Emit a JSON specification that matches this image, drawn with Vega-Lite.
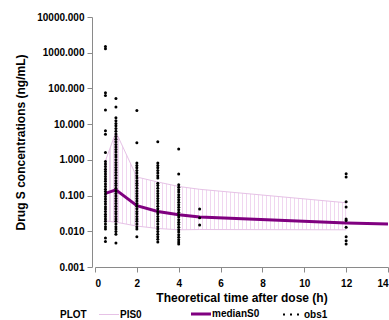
{
  "$schema": "https://vega.github.io/schema/vega-lite/v6.json",
  "width": 293,
  "height": 250,
  "autosize": "none",
  "padding": {"left": 95, "top": 17, "right": 1, "bottom": 53},
  "background": "white",
  "config": {
    "view": {"stroke": null},
    "font": "Liberation Sans",
    "axis": {"grid": false, "domainColor": "#8a8a8a", "tickColor": "#8a8a8a", "labelColor": "#000", "labelFont": "Liberation Sans", "labelFontWeight": "bold", "labelFontSize": 10, "titleFont": "Liberation Sans", "titleFontWeight": "bold", "titleFontSize": 12, "titleColor": "#000", "tickSize": 5}
  },
  "datasets": {
    "band": [
      {"t": 0.5, "lo": 0.0195, "hi": 0.95},
      {"t": 1, "lo": 0.018, "hi": 6},
      {"t": 2, "lo": 0.014, "hi": 0.33},
      {"t": 3, "lo": 0.012, "hi": 0.24},
      {"t": 4, "lo": 0.011, "hi": 0.18},
      {"t": 5, "lo": 0.0112, "hi": 0.15},
      {"t": 12, "lo": 0.011, "hi": 0.063}
    ],
    "median": [
      {"t": 0.5, "m": 0.115},
      {"t": 1, "m": 0.145},
      {"t": 2, "m": 0.052},
      {"t": 3, "m": 0.036},
      {"t": 4, "m": 0.029},
      {"t": 5, "m": 0.025},
      {"t": 12, "m": 0.017},
      {"t": 14, "m": 0.016}
    ],
    "obs": [
      {"t": 0.5, "c": 1500}, {"t": 0.5, "c": 1300}, {"t": 0.5, "c": 76}, {"t": 0.5, "c": 63}, {"t": 0.5, "c": 25}, {"t": 0.5, "c": 6.5}, {"t": 0.5, "c": 5.2}, {"t": 0.5, "c": 1.6},
      {"t": 0.5, "c": 0.9}, {"t": 0.5, "c": 0.77}, {"t": 0.5, "c": 0.65}, {"t": 0.5, "c": 0.55}, {"t": 0.5, "c": 0.47}, {"t": 0.5, "c": 0.4}, {"t": 0.5, "c": 0.34}, {"t": 0.5, "c": 0.29},
      {"t": 0.5, "c": 0.25}, {"t": 0.5, "c": 0.21}, {"t": 0.5, "c": 0.18}, {"t": 0.5, "c": 0.15}, {"t": 0.5, "c": 0.13}, {"t": 0.5, "c": 0.11}, {"t": 0.5, "c": 0.094}, {"t": 0.5, "c": 0.08},
      {"t": 0.5, "c": 0.068}, {"t": 0.5, "c": 0.058}, {"t": 0.5, "c": 0.049}, {"t": 0.5, "c": 0.042}, {"t": 0.5, "c": 0.036}, {"t": 0.5, "c": 0.03}, {"t": 0.5, "c": 0.026}, {"t": 0.5, "c": 0.022},
      {"t": 0.5, "c": 0.019}, {"t": 0.5, "c": 0.016}, {"t": 0.5, "c": 0.0135}, {"t": 0.5, "c": 0.0115}, {"t": 0.5, "c": 0.0065}, {"t": 0.5, "c": 0.0052},
      {"t": 1, "c": 52}, {"t": 1, "c": 30}, {"t": 1, "c": 15}, {"t": 1, "c": 12.5}, {"t": 1, "c": 10.5}, {"t": 1, "c": 9}, {"t": 1, "c": 7.5}, {"t": 1, "c": 6.3}, {"t": 1, "c": 5.3}, {"t": 1, "c": 4.5},
      {"t": 1, "c": 3.8}, {"t": 1, "c": 3.2}, {"t": 1, "c": 2.7}, {"t": 1, "c": 2.3}, {"t": 1, "c": 1.95}, {"t": 1, "c": 1.65}, {"t": 1, "c": 1.4}, {"t": 1, "c": 1.2}, {"t": 1, "c": 1.0}, {"t": 1, "c": 0.85},
      {"t": 1, "c": 0.72}, {"t": 1, "c": 0.61}, {"t": 1, "c": 0.52}, {"t": 1, "c": 0.44}, {"t": 1, "c": 0.37}, {"t": 1, "c": 0.31}, {"t": 1, "c": 0.26}, {"t": 1, "c": 0.22}, {"t": 1, "c": 0.19}, {"t": 1, "c": 0.16},
      {"t": 1, "c": 0.135}, {"t": 1, "c": 0.115}, {"t": 1, "c": 0.098}, {"t": 1, "c": 0.083}, {"t": 1, "c": 0.07}, {"t": 1, "c": 0.06}, {"t": 1, "c": 0.05}, {"t": 1, "c": 0.043}, {"t": 1, "c": 0.036}, {"t": 1, "c": 0.031},
      {"t": 1, "c": 0.026}, {"t": 1, "c": 0.022}, {"t": 1, "c": 0.019}, {"t": 1, "c": 0.016}, {"t": 1, "c": 0.0135}, {"t": 1, "c": 0.0115}, {"t": 1, "c": 0.0098}, {"t": 1, "c": 0.0083}, {"t": 1, "c": 0.0047},
      {"t": 2, "c": 24}, {"t": 2, "c": 3.0}, {"t": 2, "c": 0.82}, {"t": 2, "c": 0.7}, {"t": 2, "c": 0.6}, {"t": 2, "c": 0.5}, {"t": 2, "c": 0.43}, {"t": 2, "c": 0.36}, {"t": 2, "c": 0.31}, {"t": 2, "c": 0.26},
      {"t": 2, "c": 0.22}, {"t": 2, "c": 0.19}, {"t": 2, "c": 0.16}, {"t": 2, "c": 0.135}, {"t": 2, "c": 0.115}, {"t": 2, "c": 0.098}, {"t": 2, "c": 0.083}, {"t": 2, "c": 0.07}, {"t": 2, "c": 0.06}, {"t": 2, "c": 0.05},
      {"t": 2, "c": 0.043}, {"t": 2, "c": 0.036}, {"t": 2, "c": 0.031}, {"t": 2, "c": 0.026}, {"t": 2, "c": 0.022}, {"t": 2, "c": 0.019}, {"t": 2, "c": 0.016}, {"t": 2, "c": 0.0135}, {"t": 2, "c": 0.0115}, {"t": 2, "c": 0.007},
      {"t": 3, "c": 3.2}, {"t": 3, "c": 0.82}, {"t": 3, "c": 0.7}, {"t": 3, "c": 0.6}, {"t": 3, "c": 0.5}, {"t": 3, "c": 0.43}, {"t": 3, "c": 0.36}, {"t": 3, "c": 0.31}, {"t": 3, "c": 0.22}, {"t": 3, "c": 0.19},
      {"t": 3, "c": 0.16}, {"t": 3, "c": 0.135}, {"t": 3, "c": 0.115}, {"t": 3, "c": 0.098}, {"t": 3, "c": 0.083}, {"t": 3, "c": 0.07}, {"t": 3, "c": 0.06}, {"t": 3, "c": 0.05}, {"t": 3, "c": 0.043}, {"t": 3, "c": 0.036},
      {"t": 3, "c": 0.031}, {"t": 3, "c": 0.026}, {"t": 3, "c": 0.022}, {"t": 3, "c": 0.019}, {"t": 3, "c": 0.016}, {"t": 3, "c": 0.0135}, {"t": 3, "c": 0.0115}, {"t": 3, "c": 0.0098}, {"t": 3, "c": 0.0083}, {"t": 3, "c": 0.007},
      {"t": 3, "c": 0.006}, {"t": 3, "c": 0.005},
      {"t": 4, "c": 2.0}, {"t": 4, "c": 0.4}, {"t": 4, "c": 0.2}, {"t": 4, "c": 0.17}, {"t": 4, "c": 0.145}, {"t": 4, "c": 0.125}, {"t": 4, "c": 0.105}, {"t": 4, "c": 0.09}, {"t": 4, "c": 0.077}, {"t": 4, "c": 0.065},
      {"t": 4, "c": 0.055}, {"t": 4, "c": 0.047}, {"t": 4, "c": 0.04}, {"t": 4, "c": 0.034}, {"t": 4, "c": 0.029}, {"t": 4, "c": 0.025}, {"t": 4, "c": 0.021}, {"t": 4, "c": 0.018}, {"t": 4, "c": 0.0155}, {"t": 4, "c": 0.013},
      {"t": 4, "c": 0.011}, {"t": 4, "c": 0.0095}, {"t": 4, "c": 0.008}, {"t": 4, "c": 0.0068}, {"t": 4, "c": 0.0058}, {"t": 4, "c": 0.005}, {"t": 4, "c": 0.0044},
      {"t": 5, "c": 0.042}, {"t": 5, "c": 0.024}, {"t": 5, "c": 0.015},
      {"t": 12, "c": 0.41}, {"t": 12, "c": 0.33}, {"t": 12, "c": 0.067}, {"t": 12, "c": 0.048}, {"t": 12, "c": 0.022}, {"t": 12, "c": 0.02}, {"t": 12, "c": 0.013}, {"t": 12, "c": 0.007}, {"t": 12, "c": 0.0054}, {"t": 12, "c": 0.0044}
    ]
  },
  "layer": [
    {
      "data": {"name": "band"},
      "mark": {"type": "area", "opacity": 1, "fill": {"gradient": "linear", "x1": 0, "y1": 0, "x2": 1, "y2": 0, "stops": [
        {"offset": 0, "color": "#f0d6f0"}, {"offset": 0.0045, "color": "#f0d6f0"}, {"offset": 0.0045, "color": "#ffffff"},
        {"offset": 0.0167, "color": "#ffffff"}, {"offset": 0.0167, "color": "#f0d6f0"}, {"offset": 0.0212, "color": "#f0d6f0"}, {"offset": 0.0212, "color": "#ffffff"},
        {"offset": 0.0333, "color": "#ffffff"}, {"offset": 0.0333, "color": "#f0d6f0"}, {"offset": 0.0378, "color": "#f0d6f0"}, {"offset": 0.0378, "color": "#ffffff"},
        {"offset": 0.05, "color": "#ffffff"}, {"offset": 0.05, "color": "#f0d6f0"}, {"offset": 0.0545, "color": "#f0d6f0"}, {"offset": 0.0545, "color": "#ffffff"},
        {"offset": 0.0667, "color": "#ffffff"}, {"offset": 0.0667, "color": "#f0d6f0"}, {"offset": 0.0712, "color": "#f0d6f0"}, {"offset": 0.0712, "color": "#ffffff"},
        {"offset": 0.0833, "color": "#ffffff"}, {"offset": 0.0833, "color": "#f0d6f0"}, {"offset": 0.0878, "color": "#f0d6f0"}, {"offset": 0.0878, "color": "#ffffff"},
        {"offset": 0.1, "color": "#ffffff"}, {"offset": 0.1, "color": "#f0d6f0"}, {"offset": 0.1045, "color": "#f0d6f0"}, {"offset": 0.1045, "color": "#ffffff"},
        {"offset": 0.1167, "color": "#ffffff"}, {"offset": 0.1167, "color": "#f0d6f0"}, {"offset": 0.1212, "color": "#f0d6f0"}, {"offset": 0.1212, "color": "#ffffff"},
        {"offset": 0.1333, "color": "#ffffff"}, {"offset": 0.1333, "color": "#f0d6f0"}, {"offset": 0.1378, "color": "#f0d6f0"}, {"offset": 0.1378, "color": "#ffffff"},
        {"offset": 0.15, "color": "#ffffff"}, {"offset": 0.15, "color": "#f0d6f0"}, {"offset": 0.1545, "color": "#f0d6f0"}, {"offset": 0.1545, "color": "#ffffff"},
        {"offset": 0.1667, "color": "#ffffff"}, {"offset": 0.1667, "color": "#f0d6f0"}, {"offset": 0.1712, "color": "#f0d6f0"}, {"offset": 0.1712, "color": "#ffffff"},
        {"offset": 0.1833, "color": "#ffffff"}, {"offset": 0.1833, "color": "#f0d6f0"}, {"offset": 0.1878, "color": "#f0d6f0"}, {"offset": 0.1878, "color": "#ffffff"},
        {"offset": 0.2, "color": "#ffffff"}, {"offset": 0.2, "color": "#f0d6f0"}, {"offset": 0.2045, "color": "#f0d6f0"}, {"offset": 0.2045, "color": "#ffffff"},
        {"offset": 0.2167, "color": "#ffffff"}, {"offset": 0.2167, "color": "#f0d6f0"}, {"offset": 0.2212, "color": "#f0d6f0"}, {"offset": 0.2212, "color": "#ffffff"},
        {"offset": 0.2333, "color": "#ffffff"}, {"offset": 0.2333, "color": "#f0d6f0"}, {"offset": 0.2378, "color": "#f0d6f0"}, {"offset": 0.2378, "color": "#ffffff"},
        {"offset": 0.25, "color": "#ffffff"}, {"offset": 0.25, "color": "#f0d6f0"}, {"offset": 0.2545, "color": "#f0d6f0"}, {"offset": 0.2545, "color": "#ffffff"},
        {"offset": 0.2667, "color": "#ffffff"}, {"offset": 0.2667, "color": "#f0d6f0"}, {"offset": 0.2712, "color": "#f0d6f0"}, {"offset": 0.2712, "color": "#ffffff"},
        {"offset": 0.2833, "color": "#ffffff"}, {"offset": 0.2833, "color": "#f0d6f0"}, {"offset": 0.2878, "color": "#f0d6f0"}, {"offset": 0.2878, "color": "#ffffff"},
        {"offset": 0.3, "color": "#ffffff"}, {"offset": 0.3, "color": "#f0d6f0"}, {"offset": 0.3045, "color": "#f0d6f0"}, {"offset": 0.3045, "color": "#ffffff"},
        {"offset": 0.3167, "color": "#ffffff"}, {"offset": 0.3167, "color": "#f0d6f0"}, {"offset": 0.3212, "color": "#f0d6f0"}, {"offset": 0.3212, "color": "#ffffff"},
        {"offset": 0.3333, "color": "#ffffff"}, {"offset": 0.3333, "color": "#f0d6f0"}, {"offset": 0.3378, "color": "#f0d6f0"}, {"offset": 0.3378, "color": "#ffffff"},
        {"offset": 0.35, "color": "#ffffff"}, {"offset": 0.35, "color": "#f0d6f0"}, {"offset": 0.3545, "color": "#f0d6f0"}, {"offset": 0.3545, "color": "#ffffff"},
        {"offset": 0.3667, "color": "#ffffff"}, {"offset": 0.3667, "color": "#f0d6f0"}, {"offset": 0.3712, "color": "#f0d6f0"}, {"offset": 0.3712, "color": "#ffffff"},
        {"offset": 0.3833, "color": "#ffffff"}, {"offset": 0.3833, "color": "#f0d6f0"}, {"offset": 0.3878, "color": "#f0d6f0"}, {"offset": 0.3878, "color": "#ffffff"},
        {"offset": 0.4, "color": "#ffffff"}, {"offset": 0.4, "color": "#f0d6f0"}, {"offset": 0.4045, "color": "#f0d6f0"}, {"offset": 0.4045, "color": "#ffffff"},
        {"offset": 0.4167, "color": "#ffffff"}, {"offset": 0.4167, "color": "#f0d6f0"}, {"offset": 0.4212, "color": "#f0d6f0"}, {"offset": 0.4212, "color": "#ffffff"},
        {"offset": 0.4333, "color": "#ffffff"}, {"offset": 0.4333, "color": "#f0d6f0"}, {"offset": 0.4378, "color": "#f0d6f0"}, {"offset": 0.4378, "color": "#ffffff"},
        {"offset": 0.45, "color": "#ffffff"}, {"offset": 0.45, "color": "#f0d6f0"}, {"offset": 0.4545, "color": "#f0d6f0"}, {"offset": 0.4545, "color": "#ffffff"},
        {"offset": 0.4667, "color": "#ffffff"}, {"offset": 0.4667, "color": "#f0d6f0"}, {"offset": 0.4712, "color": "#f0d6f0"}, {"offset": 0.4712, "color": "#ffffff"},
        {"offset": 0.4833, "color": "#ffffff"}, {"offset": 0.4833, "color": "#f0d6f0"}, {"offset": 0.4878, "color": "#f0d6f0"}, {"offset": 0.4878, "color": "#ffffff"},
        {"offset": 0.5, "color": "#ffffff"}, {"offset": 0.5, "color": "#f0d6f0"}, {"offset": 0.5045, "color": "#f0d6f0"}, {"offset": 0.5045, "color": "#ffffff"},
        {"offset": 0.5167, "color": "#ffffff"}, {"offset": 0.5167, "color": "#f0d6f0"}, {"offset": 0.5212, "color": "#f0d6f0"}, {"offset": 0.5212, "color": "#ffffff"},
        {"offset": 0.5333, "color": "#ffffff"}, {"offset": 0.5333, "color": "#f0d6f0"}, {"offset": 0.5378, "color": "#f0d6f0"}, {"offset": 0.5378, "color": "#ffffff"},
        {"offset": 0.55, "color": "#ffffff"}, {"offset": 0.55, "color": "#f0d6f0"}, {"offset": 0.5545, "color": "#f0d6f0"}, {"offset": 0.5545, "color": "#ffffff"},
        {"offset": 0.5667, "color": "#ffffff"}, {"offset": 0.5667, "color": "#f0d6f0"}, {"offset": 0.5712, "color": "#f0d6f0"}, {"offset": 0.5712, "color": "#ffffff"},
        {"offset": 0.5833, "color": "#ffffff"}, {"offset": 0.5833, "color": "#f0d6f0"}, {"offset": 0.5878, "color": "#f0d6f0"}, {"offset": 0.5878, "color": "#ffffff"},
        {"offset": 0.6, "color": "#ffffff"}, {"offset": 0.6, "color": "#f0d6f0"}, {"offset": 0.6045, "color": "#f0d6f0"}, {"offset": 0.6045, "color": "#ffffff"},
        {"offset": 0.6167, "color": "#ffffff"}, {"offset": 0.6167, "color": "#f0d6f0"}, {"offset": 0.6212, "color": "#f0d6f0"}, {"offset": 0.6212, "color": "#ffffff"},
        {"offset": 0.6333, "color": "#ffffff"}, {"offset": 0.6333, "color": "#f0d6f0"}, {"offset": 0.6378, "color": "#f0d6f0"}, {"offset": 0.6378, "color": "#ffffff"},
        {"offset": 0.65, "color": "#ffffff"}, {"offset": 0.65, "color": "#f0d6f0"}, {"offset": 0.6545, "color": "#f0d6f0"}, {"offset": 0.6545, "color": "#ffffff"},
        {"offset": 0.6667, "color": "#ffffff"}, {"offset": 0.6667, "color": "#f0d6f0"}, {"offset": 0.6712, "color": "#f0d6f0"}, {"offset": 0.6712, "color": "#ffffff"},
        {"offset": 0.6833, "color": "#ffffff"}, {"offset": 0.6833, "color": "#f0d6f0"}, {"offset": 0.6878, "color": "#f0d6f0"}, {"offset": 0.6878, "color": "#ffffff"},
        {"offset": 0.7, "color": "#ffffff"}, {"offset": 0.7, "color": "#f0d6f0"}, {"offset": 0.7045, "color": "#f0d6f0"}, {"offset": 0.7045, "color": "#ffffff"},
        {"offset": 0.7167, "color": "#ffffff"}, {"offset": 0.7167, "color": "#f0d6f0"}, {"offset": 0.7212, "color": "#f0d6f0"}, {"offset": 0.7212, "color": "#ffffff"},
        {"offset": 0.7333, "color": "#ffffff"}, {"offset": 0.7333, "color": "#f0d6f0"}, {"offset": 0.7378, "color": "#f0d6f0"}, {"offset": 0.7378, "color": "#ffffff"},
        {"offset": 0.75, "color": "#ffffff"}, {"offset": 0.75, "color": "#f0d6f0"}, {"offset": 0.7545, "color": "#f0d6f0"}, {"offset": 0.7545, "color": "#ffffff"},
        {"offset": 0.7667, "color": "#ffffff"}, {"offset": 0.7667, "color": "#f0d6f0"}, {"offset": 0.7712, "color": "#f0d6f0"}, {"offset": 0.7712, "color": "#ffffff"},
        {"offset": 0.7833, "color": "#ffffff"}, {"offset": 0.7833, "color": "#f0d6f0"}, {"offset": 0.7878, "color": "#f0d6f0"}, {"offset": 0.7878, "color": "#ffffff"},
        {"offset": 0.8, "color": "#ffffff"}, {"offset": 0.8, "color": "#f0d6f0"}, {"offset": 0.8045, "color": "#f0d6f0"}, {"offset": 0.8045, "color": "#ffffff"},
        {"offset": 0.8167, "color": "#ffffff"}, {"offset": 0.8167, "color": "#f0d6f0"}, {"offset": 0.8212, "color": "#f0d6f0"}, {"offset": 0.8212, "color": "#ffffff"},
        {"offset": 0.8333, "color": "#ffffff"}, {"offset": 0.8333, "color": "#f0d6f0"}, {"offset": 0.8378, "color": "#f0d6f0"}, {"offset": 0.8378, "color": "#ffffff"},
        {"offset": 0.85, "color": "#ffffff"}, {"offset": 0.85, "color": "#f0d6f0"}, {"offset": 0.8545, "color": "#f0d6f0"}, {"offset": 0.8545, "color": "#ffffff"},
        {"offset": 0.8667, "color": "#ffffff"}, {"offset": 0.8667, "color": "#f0d6f0"}, {"offset": 0.8712, "color": "#f0d6f0"}, {"offset": 0.8712, "color": "#ffffff"},
        {"offset": 0.8833, "color": "#ffffff"}, {"offset": 0.8833, "color": "#f0d6f0"}, {"offset": 0.8878, "color": "#f0d6f0"}, {"offset": 0.8878, "color": "#ffffff"},
        {"offset": 0.9, "color": "#ffffff"}, {"offset": 0.9, "color": "#f0d6f0"}, {"offset": 0.9045, "color": "#f0d6f0"}, {"offset": 0.9045, "color": "#ffffff"},
        {"offset": 0.9167, "color": "#ffffff"}, {"offset": 0.9167, "color": "#f0d6f0"}, {"offset": 0.9212, "color": "#f0d6f0"}, {"offset": 0.9212, "color": "#ffffff"},
        {"offset": 0.9333, "color": "#ffffff"}, {"offset": 0.9333, "color": "#f0d6f0"}, {"offset": 0.9378, "color": "#f0d6f0"}, {"offset": 0.9378, "color": "#ffffff"},
        {"offset": 0.95, "color": "#ffffff"}, {"offset": 0.95, "color": "#f0d6f0"}, {"offset": 0.9545, "color": "#f0d6f0"}, {"offset": 0.9545, "color": "#ffffff"},
        {"offset": 0.9667, "color": "#ffffff"}, {"offset": 0.9667, "color": "#f0d6f0"}, {"offset": 0.9712, "color": "#f0d6f0"}, {"offset": 0.9712, "color": "#ffffff"},
        {"offset": 0.9833, "color": "#ffffff"}, {"offset": 0.9833, "color": "#f0d6f0"}, {"offset": 0.9878, "color": "#f0d6f0"}, {"offset": 0.9878, "color": "#ffffff"},
        {"offset": 0.9955, "color": "#ffffff"}, {"offset": 0.9955, "color": "#f0d6f0"}, {"offset": 1, "color": "#f0d6f0"}
      ]}},
      "encoding": {
        "x": {"field": "t", "type": "quantitative", "scale": {"domain": [0, 14], "nice": false}, "axis": {"values": [0, 2, 4, 6, 8, 10, 12, 14], "format": "d", "title": "Theoretical time after dose (h)", "labelPadding": 6, "titlePadding": 4}},
        "y": {"field": "lo", "type": "quantitative", "scale": {"type": "log", "domain": [0.001, 10000], "nice": false}, "axis": {"values": [0.001, 0.01, 0.1, 1, 10, 100, 1000, 10000], "format": ".3f", "offset": 3, "title": "Drug S concentrations (ng/mL)", "labelPadding": 3, "titlePadding": 9}},
        "y2": {"field": "hi"}
      }
    },
    {
      "data": {"name": "band"},
      "mark": {"type": "line", "strokeWidth": 1},
      "encoding": {
        "x": {"field": "t", "type": "quantitative"},
        "y": {"field": "hi", "type": "quantitative"},
        "color": {"datum": "PIS0"}
      }
    },
    {
      "data": {"name": "band"},
      "mark": {"type": "line", "strokeWidth": 1},
      "encoding": {
        "x": {"field": "t", "type": "quantitative"},
        "y": {"field": "lo", "type": "quantitative"},
        "color": {"datum": "PIS0"}
      }
    },
    {
      "data": {"name": "median"},
      "mark": {"type": "line", "strokeWidth": 3},
      "encoding": {
        "x": {"field": "t", "type": "quantitative"},
        "y": {"field": "m", "type": "quantitative"},
        "color": {"datum": "medianS0", "type": "nominal",
          "scale": {"domain": ["PIS0", "medianS0", "obs1"], "range": ["#e6c2e6", "#800080", "#000000"]},
          "legend": {
            "title": "PLOT", "orient": "none", "legendX": -35, "legendY": 292, "direction": "horizontal",
            "titleOrient": "left", "titleFont": "Liberation Sans", "titleFontSize": 10, "titleFontWeight": "bold", "titleColor": "#000", "titlePadding": 17,
            "labelFont": "Liberation Sans", "labelFontSize": 10, "labelFontWeight": "bold", "labelColor": "#000", "labelOffset": 6,
            "symbolType": "stroke", "symbolSize": 400, "gridAlign": "all", "columnPadding": 17,
            "encode": {"symbols": {"update": {
              "fill": {"value": "transparent"},
              "stroke": {"signal": "datum.value === 'PIS0' ? '#e6c2e6' : datum.value === 'medianS0' ? '#800080' : '#000000'"},
              "strokeWidth": {"signal": "datum.value === 'medianS0' ? 3 : datum.value === 'obs1' ? 2 : 1"},
              "strokeDash": {"signal": "datum.value === 'obs1' ? [2, 5] : [1, 0]"},
              "opacity": {"value": 1}
            }}}
          }
        }
      }
    },
    {
      "data": {"name": "obs"},
      "mark": {"type": "circle", "size": 9, "opacity": 1},
      "encoding": {
        "x": {"field": "t", "type": "quantitative"},
        "y": {"field": "c", "type": "quantitative"},
        "color": {"datum": "obs1"}
      }
    }
  ]
}
